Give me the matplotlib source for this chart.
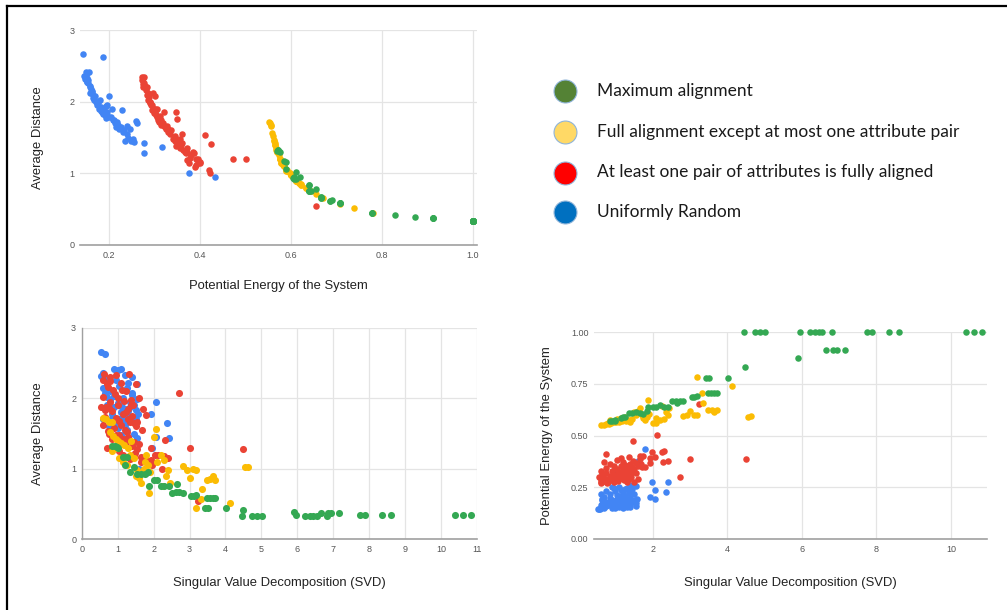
import matplotlib
matplotlib.use("Agg")
import matplotlib.pyplot as plt
from matplotlib.lines import Line2D

# ── data: one triple (svd, potential energy, avg distance) per point ──────────

blue_svd = [0.55, 0.65, 0.90, 1.00, 1.10, 0.53, 1.20, 0.95, 1.30, 1.05, 0.75, 1.25,
            1.40, 0.65, 1.15, 1.35, 0.80, 1.45, 1.00, 1.20, 0.90, 1.30, 2.06, 1.57,
            1.10, 1.93, 1.40, 0.70, 1.25, 1.05, 1.50, 0.85, 1.20, 2.36, 1.35, 1.00,
            2.06, 1.15, 1.45, 0.95, 1.30, 1.10, 1.40, 1.50, 2.42, 1.97, 1.00, 1.60,
            1.79, 0.62, 0.80, 1.12, 0.58, 0.70, 1.40, 1.55, 0.60, 0.90, 1.55, 0.75,
            1.50, 0.65, 0.85, 1.15, 0.60, 1.35, 0.75, 1.25, 0.90, 1.55, 0.70, 1.05]
blue_pe = [0.143, 0.186, 0.148, 0.152, 0.156, 0.146, 0.150, 0.153, 0.157, 0.160, 0.158, 0.163,
           0.165, 0.168, 0.170, 0.173, 0.176, 0.178, 0.181, 0.185, 0.188, 0.190, 0.193, 0.193,
           0.196, 0.204, 0.200, 0.205, 0.208, 0.212, 0.215, 0.218, 0.222, 0.225, 0.227, 0.230,
           0.235, 0.238, 0.242, 0.245, 0.248, 0.252, 0.259, 0.262, 0.277, 0.277, 0.317, 0.376,
           0.433, 0.150, 0.165, 0.182, 0.145, 0.150, 0.154, 0.158, 0.162, 0.167, 0.172, 0.180,
           0.186, 0.195, 0.200, 0.210, 0.215, 0.220, 0.232, 0.240, 0.250, 0.255, 0.180, 0.195]
blue_dist = [2.66, 2.63, 2.42, 2.40, 2.41, 2.32, 2.33, 2.26, 2.22, 2.18, 2.12, 2.15,
             2.05, 2.08, 2.00, 1.95, 1.98, 1.90, 1.93, 1.85, 1.88, 1.82, 1.94, 1.77,
             1.80, 1.78, 2.08, 1.90, 1.75, 1.70, 1.65, 1.72, 1.62, 1.645, 1.88, 1.58,
             1.455, 1.66, 1.50, 1.62, 1.45, 1.48, 1.73, 1.70, 1.43, 1.29, 1.37, 1.00,
             0.944, 2.28, 2.10, 1.87, 2.36, 2.28, 2.30, 2.20, 2.14, 2.03, 1.99, 1.91,
             1.83, 1.86, 1.78, 1.74, 1.70, 1.68, 1.60, 1.55, 1.47, 1.44, 2.02, 1.96]

red_svd = [0.62, 0.78, 0.95, 1.32, 0.60, 1.08, 0.72, 1.22, 0.60, 0.92, 1.36, 0.80,
           2.72, 1.12, 0.68, 1.00, 1.28, 0.85, 1.15, 1.40, 0.95, 1.22, 1.05, 1.30,
           0.75, 1.45, 1.10, 1.35, 0.90, 1.20, 1.50, 1.70, 1.80, 1.05, 1.30, 1.45,
           1.15, 1.60, 1.25, 1.68, 1.40, 1.93, 1.55, 1.20, 2.40, 1.48, 2.28, 3.00,
           4.50, 1.65, 1.92, 2.05, 1.75, 2.24, 2.31, 0.74, 1.46, 2.11, 3.25, 0.70,
           0.88, 1.02, 1.18, 0.65, 1.38, 0.55, 0.65, 0.60, 0.75, 0.85, 0.70, 1.05,
           1.35, 1.55, 1.60, 1.50, 1.25, 0.95, 1.15, 0.80, 1.42, 1.66, 1.97]
red_pe = [0.271, 0.272, 0.274, 0.276, 0.277, 0.279, 0.281, 0.283, 0.286, 0.288, 0.290, 0.292,
          0.301, 0.297, 0.295, 0.298, 0.300, 0.303, 0.305, 0.308, 0.310, 0.312, 0.315, 0.318,
          0.320, 0.322, 0.325, 0.328, 0.330, 0.333, 0.336, 0.346, 0.350, 0.340, 0.345, 0.348,
          0.352, 0.355, 0.358, 0.361, 0.362, 0.366, 0.368, 0.372, 0.375, 0.378, 0.372, 0.385,
          0.386, 0.388, 0.392, 0.396, 0.400, 0.421, 0.424, 0.410, 0.473, 0.502, 0.654, 0.282,
          0.285, 0.289, 0.294, 0.299, 0.306, 0.300, 0.315, 0.330, 0.345, 0.360, 0.372, 0.380,
          0.395, 0.320, 0.290, 0.275, 0.345, 0.355, 0.390, 0.275, 0.300, 0.400, 0.420]
red_dist = [2.35, 2.30, 2.33, 2.34, 2.26, 2.22, 2.16, 2.10, 2.02, 2.06, 1.98, 1.95,
            2.08, 2.12, 1.88, 1.90, 1.85, 1.82, 1.78, 1.75, 1.72, 1.80, 1.68, 1.70,
            1.86, 1.65, 1.62, 1.66, 1.58, 1.55, 1.60, 1.85, 1.76, 1.48, 1.45, 1.38,
            1.42, 1.35, 1.40, 1.55, 1.32, 1.30, 1.28, 1.35, 1.15, 1.22, 1.18, 1.30,
            1.28, 1.09, 1.12, 1.20, 1.15, 1.00, 1.41, 1.53, 1.20, 1.20, 0.54, 2.20,
            2.12, 2.00, 1.96, 1.84, 1.90, 1.87, 1.74, 1.62, 1.50, 1.42, 1.30, 1.25,
            1.14, 1.66, 2.00, 2.20, 1.52, 1.48, 1.20, 2.25, 1.90, 1.16, 1.05]

yellow_svd = [0.60, 0.68, 0.75, 0.83, 0.80, 0.88, 0.95, 1.02, 1.10, 1.18, 1.28, 1.38,
              0.85, 0.95, 1.05, 1.15, 1.25, 1.35, 1.45, 1.55, 1.50, 1.60, 1.65, 1.72,
              1.80, 1.75, 1.90, 1.85, 2.00, 2.08, 2.10, 2.20, 2.30, 2.40, 2.35, 2.45,
              2.25, 1.88, 2.82, 2.92, 3.00, 3.10, 3.19, 3.18, 3.32, 3.36, 3.49, 3.58,
              3.65, 3.72, 4.12, 4.55, 4.63]
yellow_pe = [0.552, 0.553, 0.555, 0.555, 0.560, 0.562, 0.564, 0.565, 0.567, 0.568, 0.570, 0.565,
             0.573, 0.570, 0.579, 0.584, 0.590, 0.576, 0.579, 0.600, 0.612, 0.617, 0.633, 0.597,
             0.576, 0.584, 0.604, 0.590, 0.562, 0.559, 0.584, 0.576, 0.582, 0.600, 0.612, 0.633,
             0.644, 0.671, 0.592, 0.600, 0.617, 0.597, 0.600, 0.781, 0.707, 0.655, 0.623, 0.621,
             0.612, 0.623, 0.738, 0.590, 0.592]
yellow_dist = [1.72, 1.70, 1.66, 1.67, 1.52, 1.47, 1.42, 1.40, 1.36, 1.33, 1.30, 1.40,
               1.25, 1.30, 1.15, 1.10, 1.05, 1.20, 1.15, 0.98, 0.90, 0.87, 0.80, 1.00,
               1.20, 1.10, 0.95, 1.05, 1.45, 1.56, 1.10, 1.20, 1.12, 0.98, 0.90, 0.80,
               0.75, 0.66, 1.04, 0.98, 0.87, 1.00, 0.98, 0.45, 0.57, 0.71, 0.84, 0.85,
               0.90, 0.84, 0.52, 1.03, 1.03]

green_svd = [4.46, 4.75, 4.88, 5.02, 5.96, 6.22, 6.35, 6.45, 6.55, 6.82, 7.75, 7.88,
             8.35, 8.61, 10.40, 10.61, 10.83, 6.65, 6.85, 6.94, 7.16, 5.91, 4.48, 4.01,
             3.43, 3.52, 3.48, 3.56, 3.64, 3.72, 3.05, 3.12, 3.18, 2.51, 2.62, 2.72,
             2.81, 2.65, 1.88, 2.00, 2.10, 2.20, 2.30, 2.42, 1.35, 1.45, 1.55, 1.65,
             1.75, 1.84, 1.15, 1.20, 1.25, 1.00, 0.85, 0.92, 0.98]
green_pe = [1.00, 1.00, 1.00, 1.00, 1.00, 1.00, 1.00, 1.00, 1.00, 1.00, 1.00, 1.00,
            1.00, 1.00, 1.00, 1.00, 1.00, 0.913, 0.913, 0.913, 0.913, 0.873, 0.829, 0.779,
            0.779, 0.779, 0.707, 0.707, 0.707, 0.707, 0.687, 0.687, 0.690, 0.667, 0.667, 0.667,
            0.667, 0.655, 0.640, 0.640, 0.640, 0.645, 0.640, 0.640, 0.607, 0.610, 0.612, 0.607,
            0.605, 0.620, 0.585, 0.590, 0.590, 0.575, 0.572, 0.572, 0.570]
green_dist = [0.33, 0.33, 0.33, 0.33, 0.34, 0.33, 0.33, 0.33, 0.33, 0.33, 0.34, 0.34,
              0.34, 0.34, 0.34, 0.34, 0.34, 0.37, 0.37, 0.37, 0.37, 0.39, 0.42, 0.45,
              0.45, 0.45, 0.58, 0.58, 0.58, 0.58, 0.62, 0.62, 0.63, 0.66, 0.67, 0.67,
              0.66, 0.78, 0.75, 0.84, 0.84, 0.75, 0.75, 0.76, 0.95, 1.02, 0.92, 0.92,
              0.93, 0.95, 1.17, 1.06, 1.16, 1.30, 1.32, 1.32, 1.31]

legend_labels = ["Maximum alignment",
                 "Full alignment except at most one attribute pair",
                 "At least one pair of attributes is fully aligned",
                 "Uniformly Random"]
legend_colors = ["#548235", "#ffd966", "#ff0000", "#0070c0"]

# drawing order: later series sit on top
series = [
    (blue_svd, blue_pe, blue_dist, "#4285f4"),
    (red_svd, red_pe, red_dist, "#ea4335"),
    (yellow_svd, yellow_pe, yellow_dist, "#fbbc04"),
    (green_svd, green_pe, green_dist, "#34a853"),
]

plt.rcParams["font.family"] = ["Liberation Sans", "DejaVu Sans"]

fig = plt.figure(figsize=(10.07, 6.10), dpi=100)
W, H = 1007, 610


def px_axes(left, top, right, bottom):
    return fig.add_axes([left / W, 1 - bottom / H, (right - left) / W, (bottom - top) / H])


def style(ax, left_spine=False):
    for s in ["top", "right", "left"]:
        ax.spines[s].set_visible(False)
    ax.spines["bottom"].set_color("#a0a0a0")
    ax.spines["bottom"].set_linewidth(1.2)
    if left_spine:
        ax.spines["left"].set_visible(True)
        ax.spines["left"].set_color("#a0a0a0")
        ax.spines["left"].set_linewidth(1.0)
    ax.grid(True, color="#e4e4e4", linewidth=0.9)
    ax.set_axisbelow(True)
    ax.tick_params(length=0, pad=4, labelsize=6.5, labelcolor="#555555")


label_kw = dict(fontsize=9.4, color="#222222")

# ── top-left: potential energy vs average distance ───────────────────────────
ax1 = px_axes(80, 30, 477, 245)
for svd, pe, dist, col in series:
    ax1.scatter(pe, dist, s=22, color=col, linewidths=0, clip_on=False)
ax1.set_xlim(0.1356, 1.0095)
ax1.set_ylim(0, 3)
ax1.set_xticks([0.2, 0.4, 0.6, 0.8, 1.0])
ax1.set_xticklabels(["0.2", "0.4", "0.6", "0.8", "1.0"])
ax1.set_yticks([0, 1, 2, 3])
style(ax1)
ax1.set_xlabel("Potential Energy of the System", labelpad=15, **label_kw)
ax1.set_ylabel("Average Distance", labelpad=18, **label_kw)

# ── bottom-left: svd vs average distance ─────────────────────────────────────
ax2 = px_axes(81.7, 327.7, 477, 539.3)
for svd, pe, dist, col in series:
    ax2.scatter(svd, dist, s=26, color=col, linewidths=0, clip_on=False)
ax2.set_xlim(0, 11)
ax2.set_ylim(0, 3)
ax2.set_xticks(range(0, 12))
ax2.set_yticks([0, 1, 2, 3])
style(ax2, left_spine=True)
ax2.set_xlabel("Singular Value Decomposition (SVD)", labelpad=17, **label_kw)
ax2.set_ylabel("Average Distance", labelpad=19.5, **label_kw)

# ── bottom-right: svd vs potential energy ────────────────────────────────────
ax3 = px_axes(594, 332, 987, 539)
for svd, pe, dist, col in series:
    ax3.scatter(svd, pe, s=22, color=col, linewidths=0, clip_on=False)
ax3.set_xlim(0.424, 10.97)
ax3.set_ylim(0, 1.0)
ax3.set_xticks([2, 4, 6, 8, 10])
ax3.set_yticks([0, 0.25, 0.5, 0.75, 1.0])
ax3.set_yticklabels(["0.00", "0.25", "0.50", "0.75", "1.00"])
style(ax3)
ax3.set_xlabel("Singular Value Decomposition (SVD)", labelpad=17, **label_kw)
ax3.set_ylabel("Potential Energy of the System", labelpad=13, **label_kw)

# ── legend (drawn as its own panel) ──────────────────────────────────────────
leg_y = [91, 131.5, 172.5, 212]
for lab, col, y in zip(legend_labels, legend_colors, leg_y):
    fig.add_artist(Line2D([565 / W], [1 - y / H], marker="o", markersize=16.5,
                          markerfacecolor=col, markeredgecolor="#8fb4d9",
                          markeredgewidth=0.8, linestyle="none"))
    fig.text(597 / W, 1 - y / H, lab, fontsize=12.5, family=["Lato", "DejaVu Sans"],
             color="#1a1a1a", va="center", ha="left")

# black frame on the top and left edges
fig.add_artist(Line2D([7 / W, 1.0], [1 - 6 / H, 1 - 6 / H], color="black", linewidth=1.6))
fig.add_artist(Line2D([7 / W, 7 / W], [0, 1 - 6 / H], color="black", linewidth=1.6))

fig.savefig("out.png", dpi=100)
